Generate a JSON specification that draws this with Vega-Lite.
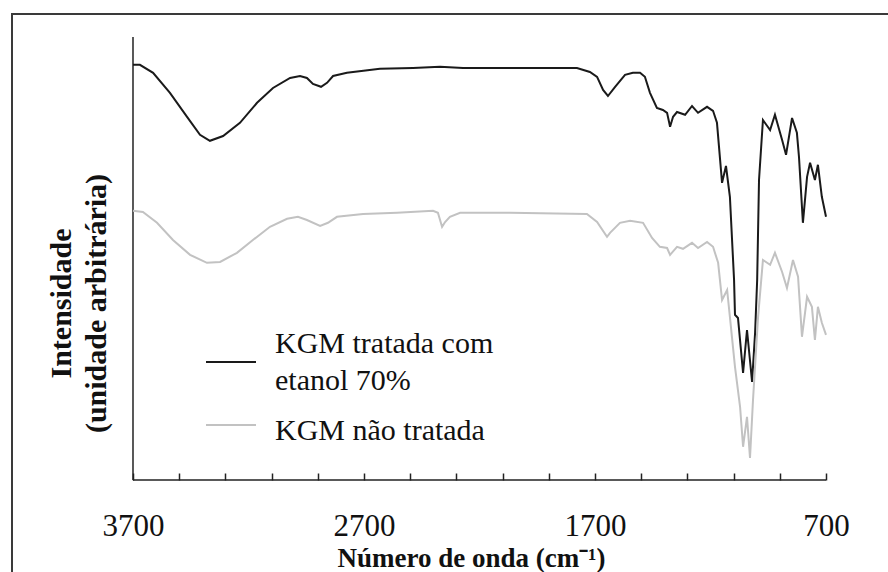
{
  "$schema": "https://vega.github.io/schema/vega-lite/v6.json",
  "width": 880,
  "height": 562,
  "autosize": {"type": "none"},
  "padding": {"left": 12, "top": 14, "right": -4, "bottom": -4},
  "background": "white",
  "config": {
    "view": {"stroke": "#3a3a3a", "strokeWidth": 2},
    "font": "Liberation Serif"
  },
  "datasets": {
    "axes": [
      {"wavenumber": 3700, "intensity": 0, "wavenumber2": 700, "intensity2": 0},
      {"wavenumber": 3700, "intensity": 0, "wavenumber2": 3700, "intensity2": 110.75}
    ],
    "spectra": [
      {"sample": "KGM tratada com\netanol 70%", "wavenumber": 3700, "intensity": 103.8},
      {"sample": "KGM tratada com\netanol 70%", "wavenumber": 3670, "intensity": 103.8},
      {"sample": "KGM tratada com\netanol 70%", "wavenumber": 3613, "intensity": 101.8},
      {"sample": "KGM tratada com\netanol 70%", "wavenumber": 3540, "intensity": 96.8},
      {"sample": "KGM tratada com\netanol 70%", "wavenumber": 3466, "intensity": 90.8},
      {"sample": "KGM tratada com\netanol 70%", "wavenumber": 3410, "intensity": 86.3},
      {"sample": "KGM tratada com\netanol 70%", "wavenumber": 3367, "intensity": 84.8},
      {"sample": "KGM tratada com\netanol 70%", "wavenumber": 3310, "intensity": 86.0},
      {"sample": "KGM tratada com\netanol 70%", "wavenumber": 3237, "intensity": 89.3},
      {"sample": "KGM tratada com\netanol 70%", "wavenumber": 3163, "intensity": 94.3},
      {"sample": "KGM tratada com\netanol 70%", "wavenumber": 3094, "intensity": 98.0},
      {"sample": "KGM tratada com\netanol 70%", "wavenumber": 3020, "intensity": 100.5},
      {"sample": "KGM tratada com\netanol 70%", "wavenumber": 2977, "intensity": 101.0},
      {"sample": "KGM tratada com\netanol 70%", "wavenumber": 2947, "intensity": 100.5},
      {"sample": "KGM tratada com\netanol 70%", "wavenumber": 2921, "intensity": 99.0},
      {"sample": "KGM tratada com\netanol 70%", "wavenumber": 2886, "intensity": 98.3},
      {"sample": "KGM tratada com\netanol 70%", "wavenumber": 2860, "intensity": 99.3},
      {"sample": "KGM tratada com\netanol 70%", "wavenumber": 2834, "intensity": 101.0},
      {"sample": "KGM tratada com\netanol 70%", "wavenumber": 2774, "intensity": 101.8},
      {"sample": "KGM tratada com\netanol 70%", "wavenumber": 2631, "intensity": 102.8},
      {"sample": "KGM tratada com\netanol 70%", "wavenumber": 2488, "intensity": 103.0},
      {"sample": "KGM tratada com\netanol 70%", "wavenumber": 2371, "intensity": 103.3},
      {"sample": "KGM tratada com\netanol 70%", "wavenumber": 2271, "intensity": 103.0},
      {"sample": "KGM tratada com\netanol 70%", "wavenumber": 2068, "intensity": 103.0},
      {"sample": "KGM tratada com\netanol 70%", "wavenumber": 1895, "intensity": 103.0},
      {"sample": "KGM tratada com\netanol 70%", "wavenumber": 1778, "intensity": 103.0},
      {"sample": "KGM tratada com\netanol 70%", "wavenumber": 1722, "intensity": 102.0},
      {"sample": "KGM tratada com\netanol 70%", "wavenumber": 1691, "intensity": 100.8},
      {"sample": "KGM tratada com\netanol 70%", "wavenumber": 1665, "intensity": 97.5},
      {"sample": "KGM tratada com\netanol 70%", "wavenumber": 1644, "intensity": 96.0},
      {"sample": "KGM tratada com\netanol 70%", "wavenumber": 1613, "intensity": 98.3},
      {"sample": "KGM tratada com\netanol 70%", "wavenumber": 1570, "intensity": 101.3},
      {"sample": "KGM tratada com\netanol 70%", "wavenumber": 1536, "intensity": 101.8},
      {"sample": "KGM tratada com\netanol 70%", "wavenumber": 1505, "intensity": 101.8},
      {"sample": "KGM tratada com\netanol 70%", "wavenumber": 1484, "intensity": 100.8},
      {"sample": "KGM tratada com\netanol 70%", "wavenumber": 1462, "intensity": 96.8},
      {"sample": "KGM tratada com\netanol 70%", "wavenumber": 1432, "intensity": 93.0},
      {"sample": "KGM tratada com\netanol 70%", "wavenumber": 1406, "intensity": 92.5},
      {"sample": "KGM tratada com\netanol 70%", "wavenumber": 1388, "intensity": 91.8},
      {"sample": "KGM tratada com\netanol 70%", "wavenumber": 1375, "intensity": 88.3},
      {"sample": "KGM tratada com\netanol 70%", "wavenumber": 1362, "intensity": 90.8},
      {"sample": "KGM tratada com\netanol 70%", "wavenumber": 1345, "intensity": 92.0},
      {"sample": "KGM tratada com\netanol 70%", "wavenumber": 1310, "intensity": 91.3},
      {"sample": "KGM tratada com\netanol 70%", "wavenumber": 1280, "intensity": 93.5},
      {"sample": "KGM tratada com\netanol 70%", "wavenumber": 1254, "intensity": 91.8},
      {"sample": "KGM tratada com\netanol 70%", "wavenumber": 1215, "intensity": 93.3},
      {"sample": "KGM tratada com\netanol 70%", "wavenumber": 1189, "intensity": 92.3},
      {"sample": "KGM tratada com\netanol 70%", "wavenumber": 1172, "intensity": 89.3},
      {"sample": "KGM tratada com\netanol 70%", "wavenumber": 1150, "intensity": 74.3},
      {"sample": "KGM tratada com\netanol 70%", "wavenumber": 1133, "intensity": 78.5},
      {"sample": "KGM tratada com\netanol 70%", "wavenumber": 1116, "intensity": 70.8},
      {"sample": "KGM tratada com\netanol 70%", "wavenumber": 1098, "intensity": 50.0},
      {"sample": "KGM tratada com\netanol 70%", "wavenumber": 1094, "intensity": 41.3},
      {"sample": "KGM tratada com\netanol 70%", "wavenumber": 1081, "intensity": 40.5},
      {"sample": "KGM tratada com\netanol 70%", "wavenumber": 1059, "intensity": 26.8},
      {"sample": "KGM tratada com\netanol 70%", "wavenumber": 1042, "intensity": 37.5},
      {"sample": "KGM tratada com\netanol 70%", "wavenumber": 1020, "intensity": 24.5},
      {"sample": "KGM tratada com\netanol 70%", "wavenumber": 1007, "intensity": 36.8},
      {"sample": "KGM tratada com\netanol 70%", "wavenumber": 998, "intensity": 50.0},
      {"sample": "KGM tratada com\netanol 70%", "wavenumber": 990, "intensity": 75.0},
      {"sample": "KGM tratada com\netanol 70%", "wavenumber": 973, "intensity": 90.0},
      {"sample": "KGM tratada com\netanol 70%", "wavenumber": 942, "intensity": 87.5},
      {"sample": "KGM tratada com\netanol 70%", "wavenumber": 921, "intensity": 91.3},
      {"sample": "KGM tratada com\netanol 70%", "wavenumber": 890, "intensity": 85.0},
      {"sample": "KGM tratada com\netanol 70%", "wavenumber": 873, "intensity": 81.3},
      {"sample": "KGM tratada com\netanol 70%", "wavenumber": 847, "intensity": 90.5},
      {"sample": "KGM tratada com\netanol 70%", "wavenumber": 826, "intensity": 86.8},
      {"sample": "KGM tratada com\netanol 70%", "wavenumber": 817, "intensity": 80.8},
      {"sample": "KGM tratada com\netanol 70%", "wavenumber": 800, "intensity": 64.3},
      {"sample": "KGM tratada com\netanol 70%", "wavenumber": 782, "intensity": 75.8},
      {"sample": "KGM tratada com\netanol 70%", "wavenumber": 769, "intensity": 79.3},
      {"sample": "KGM tratada com\netanol 70%", "wavenumber": 748, "intensity": 75.0},
      {"sample": "KGM tratada com\netanol 70%", "wavenumber": 735, "intensity": 78.8},
      {"sample": "KGM tratada com\netanol 70%", "wavenumber": 718, "intensity": 70.8},
      {"sample": "KGM tratada com\netanol 70%", "wavenumber": 700, "intensity": 65.8},
      {"sample": "KGM não tratada", "wavenumber": 3700, "intensity": 67.3},
      {"sample": "KGM não tratada", "wavenumber": 3657, "intensity": 67.0},
      {"sample": "KGM não tratada", "wavenumber": 3596, "intensity": 64.3},
      {"sample": "KGM não tratada", "wavenumber": 3527, "intensity": 60.0},
      {"sample": "KGM não tratada", "wavenumber": 3453, "intensity": 56.3},
      {"sample": "KGM não tratada", "wavenumber": 3380, "intensity": 54.3},
      {"sample": "KGM não tratada", "wavenumber": 3323, "intensity": 54.5},
      {"sample": "KGM não tratada", "wavenumber": 3250, "intensity": 56.8},
      {"sample": "KGM não tratada", "wavenumber": 3181, "intensity": 60.0},
      {"sample": "KGM não tratada", "wavenumber": 3107, "intensity": 63.3},
      {"sample": "KGM não tratada", "wavenumber": 3033, "intensity": 65.3},
      {"sample": "KGM não tratada", "wavenumber": 2986, "intensity": 65.8},
      {"sample": "KGM não tratada", "wavenumber": 2947, "intensity": 65.0},
      {"sample": "KGM não tratada", "wavenumber": 2890, "intensity": 63.5},
      {"sample": "KGM não tratada", "wavenumber": 2856, "intensity": 64.3},
      {"sample": "KGM não tratada", "wavenumber": 2817, "intensity": 65.8},
      {"sample": "KGM não tratada", "wavenumber": 2704, "intensity": 66.5},
      {"sample": "KGM não tratada", "wavenumber": 2557, "intensity": 66.8},
      {"sample": "KGM não tratada", "wavenumber": 2401, "intensity": 67.3},
      {"sample": "KGM não tratada", "wavenumber": 2380, "intensity": 66.8},
      {"sample": "KGM não tratada", "wavenumber": 2362, "intensity": 63.3},
      {"sample": "KGM não tratada", "wavenumber": 2349, "intensity": 64.5},
      {"sample": "KGM não tratada", "wavenumber": 2328, "intensity": 65.8},
      {"sample": "KGM não tratada", "wavenumber": 2284, "intensity": 66.8},
      {"sample": "KGM não tratada", "wavenumber": 2068, "intensity": 66.8},
      {"sample": "KGM não tratada", "wavenumber": 1735, "intensity": 66.5},
      {"sample": "KGM não tratada", "wavenumber": 1691, "intensity": 64.5},
      {"sample": "KGM não tratada", "wavenumber": 1648, "intensity": 60.8},
      {"sample": "KGM não tratada", "wavenumber": 1635, "intensity": 61.8},
      {"sample": "KGM não tratada", "wavenumber": 1592, "intensity": 64.3},
      {"sample": "KGM não tratada", "wavenumber": 1548, "intensity": 64.8},
      {"sample": "KGM não tratada", "wavenumber": 1492, "intensity": 64.3},
      {"sample": "KGM não tratada", "wavenumber": 1453, "intensity": 60.5},
      {"sample": "KGM não tratada", "wavenumber": 1419, "intensity": 58.3},
      {"sample": "KGM não tratada", "wavenumber": 1388, "intensity": 58.0},
      {"sample": "KGM não tratada", "wavenumber": 1375, "intensity": 56.3},
      {"sample": "KGM não tratada", "wavenumber": 1345, "intensity": 58.3},
      {"sample": "KGM não tratada", "wavenumber": 1319, "intensity": 57.8},
      {"sample": "KGM não tratada", "wavenumber": 1280, "intensity": 59.3},
      {"sample": "KGM não tratada", "wavenumber": 1254, "intensity": 58.0},
      {"sample": "KGM não tratada", "wavenumber": 1215, "intensity": 59.5},
      {"sample": "KGM não tratada", "wavenumber": 1189, "intensity": 58.3},
      {"sample": "KGM não tratada", "wavenumber": 1167, "intensity": 54.3},
      {"sample": "KGM não tratada", "wavenumber": 1150, "intensity": 45.0},
      {"sample": "KGM não tratada", "wavenumber": 1128, "intensity": 47.5},
      {"sample": "KGM não tratada", "wavenumber": 1116, "intensity": 40.8},
      {"sample": "KGM não tratada", "wavenumber": 1094, "intensity": 28.3},
      {"sample": "KGM não tratada", "wavenumber": 1072, "intensity": 18.3},
      {"sample": "KGM não tratada", "wavenumber": 1059, "intensity": 8.3},
      {"sample": "KGM não tratada", "wavenumber": 1042, "intensity": 15.8},
      {"sample": "KGM não tratada", "wavenumber": 1029, "intensity": 5.5},
      {"sample": "KGM não tratada", "wavenumber": 1016, "intensity": 20.0},
      {"sample": "KGM não tratada", "wavenumber": 994, "intensity": 40.8},
      {"sample": "KGM não tratada", "wavenumber": 973, "intensity": 55.0},
      {"sample": "KGM não tratada", "wavenumber": 942, "intensity": 53.8},
      {"sample": "KGM não tratada", "wavenumber": 921, "intensity": 56.8},
      {"sample": "KGM não tratada", "wavenumber": 890, "intensity": 52.0},
      {"sample": "KGM não tratada", "wavenumber": 869, "intensity": 48.0},
      {"sample": "KGM não tratada", "wavenumber": 843, "intensity": 55.0},
      {"sample": "KGM não tratada", "wavenumber": 821, "intensity": 50.8},
      {"sample": "KGM não tratada", "wavenumber": 804, "intensity": 35.8},
      {"sample": "KGM não tratada", "wavenumber": 782, "intensity": 45.8},
      {"sample": "KGM não tratada", "wavenumber": 761, "intensity": 43.3},
      {"sample": "KGM não tratada", "wavenumber": 748, "intensity": 35.0},
      {"sample": "KGM não tratada", "wavenumber": 735, "intensity": 43.3},
      {"sample": "KGM não tratada", "wavenumber": 718, "intensity": 39.3},
      {"sample": "KGM não tratada", "wavenumber": 700, "intensity": 36.3}
    ]
  },
  "encoding": {
    "x": {
      "field": "wavenumber",
      "type": "quantitative",
      "scale": {"domain": [414.3, 4223.8], "reverse": true, "nice": false, "zero": false},
      "axis": {
        "orient": "bottom",
        "offset": -96,
        "domain": false,
        "grid": false,
        "values": [3700, 3500, 3300, 3100, 2900, 2700, 2500, 2300, 2100, 1900, 1700, 1500, 1300, 1100, 900, 700],
        "format": "d",
        "tickSize": -7,
        "tickWidth": 1.5,
        "tickColor": "#222222",
        "labelExpr": "datum.value % 1000 == 700 ? datum.label : ''",
        "labelFont": "Liberation Serif",
        "labelFontSize": 31,
        "labelColor": "#111111",
        "labelPadding": 38,
        "labelFlush": false,
        "labelOverlap": false,
        "title": "Número de onda (cm⁻¹)",
        "titleFont": "Liberation Serif",
        "titleFontSize": 27,
        "titleFontWeight": "bold",
        "titleColor": "#111111",
        "titleX": 459,
        "titleY": 86,
        "titleAlign": "center",
        "titleBaseline": "alphabetic"
      }
    },
    "y": {
      "field": "intensity",
      "type": "quantitative",
      "scale": {"domain": [-24, 116.5], "nice": false, "zero": false},
      "axis": {
        "orient": "left",
        "offset": -121,
        "domain": false,
        "grid": false,
        "ticks": false,
        "labels": false,
        "title": ["Intensidade", "(unidade  arbitrária)"],
        "titleFont": "Liberation Serif",
        "titleFontSize": 30,
        "titleFontWeight": "bold",
        "titleColor": "#111111",
        "titleAngle": 270,
        "titleX": -63,
        "titleY": 289,
        "titleAlign": "center",
        "titleBaseline": "alphabetic",
        "titleLineHeight": 35
      }
    }
  },
  "layer": [
    {
      "data": {"name": "axes"},
      "mark": {"type": "rule", "color": "#222222", "strokeWidth": 1.5},
      "encoding": {
        "x2": {"field": "wavenumber2"},
        "y2": {"field": "intensity2"}
      }
    },
    {
      "data": {"name": "spectra"},
      "mark": {"type": "line", "strokeWidth": 2},
      "encoding": {
        "color": {
          "field": "sample",
          "type": "nominal",
          "scale": {"domain": ["KGM tratada com\netanol 70%", "KGM não tratada"], "range": ["#1a1a1a", "#c2c2c2"]},
          "legend": {
            "orient": "none",
            "legendX": 193,
            "legendY": 322,
            "title": null,
            "padding": 0,
            "symbolType": "stroke",
            "symbolSize": 2500,
            "symbolStrokeWidth": 2,
            "labelFont": "Liberation Serif",
            "labelFontSize": 30,
            "labelColor": "#111111",
            "labelOffset": 18,
            "labelLimit": 0,
            "rowPadding": 3,
            "labelExpr": "split(datum.label, '\\n')",
            "encode": {"labels": {"update": {"lineHeight": {"value": 37}, "dy": {"signal": "datum.index == 0 ? -18 : 6"}}}}
          }
        }
      }
    }
  ]
}
